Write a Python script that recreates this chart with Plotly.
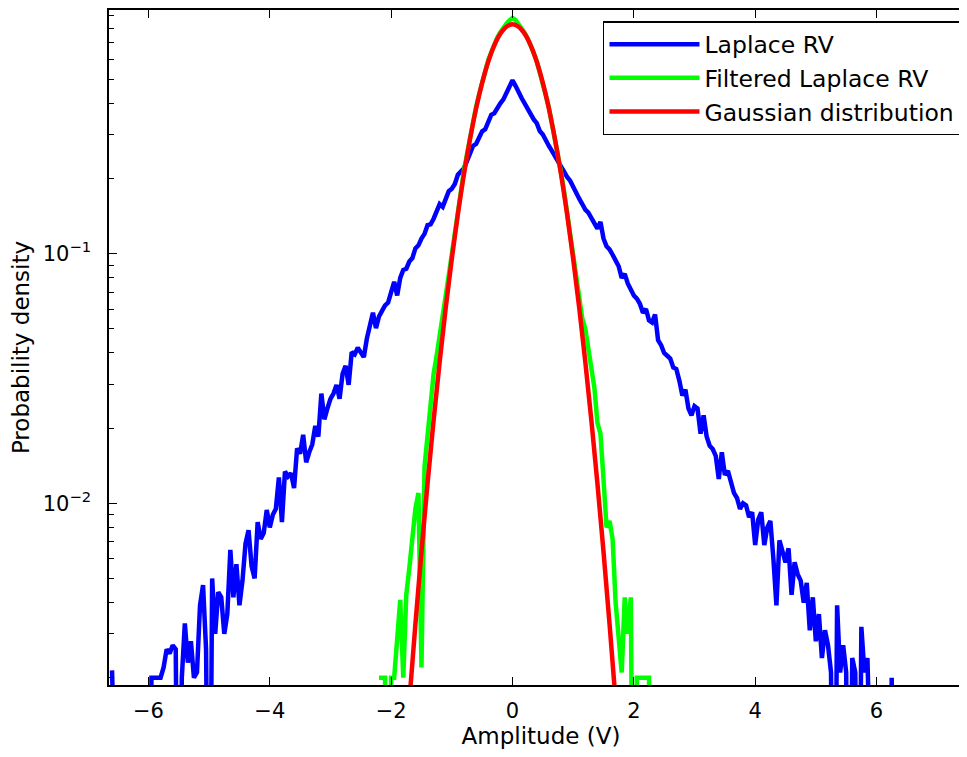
import plotly.graph_objects as go

# Laplace RV histogram density, bins 0.05 wide starting at -6.6
blue_start = -6.6
blue_y = [
    0.00214, 0, 0, 0, 0, 0, 0, 0, 0, 0, 0, 0,
    0, 0.0020, 0.0020, 0.0020, 0.0020, 0.0022, 0.0026, 0.0025, 0.0027, 0.0026,
    0, 0.0020, 0.0033, 0.0023, 0.0028, 0.0020, 0.0021, 0.0039, 0.0047, 0.0026,
    0, 0.0050, 0.0030, 0.0044, 0.0042, 0.0030, 0.0036, 0.0065, 0.0042, 0.0057,
    0.0039, 0.0049, 0.0069, 0.0078, 0.0056, 0.0050, 0.0084, 0.0072, 0.0076, 0.0094,
    0.0080, 0.0090, 0.0095, 0.0127, 0.0084, 0.0134, 0.0128, 0.0132, 0.0115, 0.0166,
    0.0158, 0.0188, 0.0146, 0.0160, 0.0172, 0.0204, 0.0185, 0.0275, 0.0217, 0.0240,
    0.0262, 0.0275, 0.0298, 0.0262, 0.0330, 0.0355, 0.0298, 0.0403, 0.0395, 0.0420,
    0.0400, 0.0385, 0.0457, 0.0520, 0.0580, 0.0503, 0.0560, 0.0590, 0.0620, 0.0637,
    0.0700, 0.0771, 0.0680, 0.0800, 0.0860, 0.0870, 0.0930, 0.0960, 0.1050, 0.1080,
    0.1150, 0.1200, 0.1300, 0.1310, 0.1380, 0.1470, 0.1580, 0.1540, 0.1680, 0.1780,
    0.182, 0.190, 0.207, 0.212, 0.220, 0.235, 0.250, 0.270, 0.275, 0.290,
    0.309, 0.315, 0.335, 0.360, 0.365, 0.385, 0.400, 0.415, 0.440, 0.465,
    0.495, 0.470, 0.440, 0.420, 0.400, 0.378, 0.365, 0.345, 0.333, 0.310,
    0.300, 0.283, 0.270, 0.258, 0.245, 0.233, 0.224, 0.213, 0.203, 0.196,
    0.184, 0.175, 0.166, 0.158, 0.150, 0.146, 0.138, 0.133, 0.126, 0.134,
    0.115, 0.107, 0.104, 0.099, 0.094, 0.089, 0.080, 0.083, 0.076, 0.072,
    0.068, 0.066, 0.063, 0.058, 0.060, 0.054, 0.053, 0.057, 0.045, 0.043,
    0.040, 0.039, 0.038, 0.035, 0.0345, 0.031, 0.027, 0.0285, 0.024, 0.0225,
    0.0245, 0.024, 0.019, 0.0225, 0.0185, 0.017, 0.0165, 0.0155, 0.0125, 0.0160,
    0.0130, 0.0135, 0.0120, 0.0110, 0.0105, 0.0095, 0.0100, 0.0098, 0.0088, 0.0092,
    0.0068, 0.0086, 0.0092, 0.0068, 0.0080, 0.0085, 0.0060, 0.0039, 0.0071, 0.0065,
    0.0058, 0.0066, 0.0043, 0.0058, 0.0052, 0.0049, 0.0040, 0.0048, 0.0031, 0.0042,
    0.0028, 0.0036, 0.0024, 0.0031, 0.0027, 0.0021, 0, 0.0039, 0.0021, 0.0027,
    0.0021, 0, 0.0024, 0.0021, 0, 0.0032, 0.0021, 0.0024, 0, 0,
    0, 0, 0, 0, 0, 0.0020, 0,
]

# filtered Laplace RV histogram density, bins 0.05 wide starting at -2.2
green_start = -2.2
green_y = [
    0.002, 0.002, 0.002, 0, 0.002, 0.002, 0.0030, 0.0041, 0.0020, 0.0043,
    0.0055, 0.0075, 0.0095, 0.0110, 0.0022, 0.0140, 0.0190, 0.0260, 0.0330, 0.0390,
    0.0480, 0.0560, 0.0680, 0.0820, 0.1000, 0.124, 0.150, 0.178, 0.215, 0.250,
    0.295, 0.335, 0.388, 0.435, 0.490, 0.540, 0.595, 0.640, 0.690, 0.735,
    0.770, 0.805, 0.835, 0.860, 0.880, 0.862, 0.830, 0.800, 0.768, 0.728,
    0.688, 0.636, 0.590, 0.535, 0.488, 0.430, 0.385, 0.335, 0.292, 0.248,
    0.212, 0.178, 0.148, 0.122, 0.100, 0.084, 0.068, 0.055, 0.050, 0.042,
    0.034, 0.029, 0.021, 0.019, 0.0125, 0.0080, 0.0085, 0.0072, 0.0040, 0.0030,
    0.0021, 0.0042, 0.0030, 0.0042, 0, 0.002, 0.002, 0.002, 0.002, 0.002, 0,
]

# Gaussian fit, read every 0.1 from -1.8 to 1.8
red_start = -1.8
red_y = [
    0.000755, 0.00161, 0.00328, 0.00641, 0.0120, 0.0215, 0.0369, 0.0607, 0.0955,
    0.1439, 0.208, 0.2875, 0.381, 0.483, 0.587, 0.683, 0.760, 0.811,
    0.829,
    0.811, 0.760, 0.683, 0.587, 0.483, 0.381, 0.2875, 0.208, 0.1439,
    0.0955, 0.0607, 0.0369, 0.0215, 0.0120, 0.00641, 0.00328, 0.00161, 0.000755,
]

blue_x = [round(blue_start + 0.05 * i, 2) for i in range(len(blue_y))]
green_x = [round(green_start + 0.05 * i, 2) for i in range(len(green_y))]
red_x = [round(red_start + 0.1 * i, 2) for i in range(len(red_y))]

# empty bins: push them below the axis so the line drops to the edge like matlab
def floor_zero(vals):
    return [v if v > 0 else 1e-4 for v in vals]

font = "DejaVu Sans, sans-serif"

fig = go.Figure()
fig.add_trace(go.Scatter(x=blue_x, y=floor_zero(blue_y), mode="lines", name="Laplace RV",
                         line=dict(color="#0000ff", width=4.5)))
fig.add_trace(go.Scatter(x=green_x, y=floor_zero(green_y), mode="lines", name="Filtered Laplace RV",
                         line=dict(color="#00ff00", width=4.5)))
fig.add_trace(go.Scatter(x=red_x, y=red_y, mode="lines", name="Gaussian distribution",
                         line=dict(color="#ff0000", width=4.5, shape="spline")))

minor_vals = [m * 10.0 ** e for e in (-3, -2, -1) for m in range(2, 10)]

# page body has an 8px margin; the right edge of the axes box runs off the picture
fig.update_layout(
    width=967, height=741,
    margin=dict(l=101, r=0, t=1, b=64),
    plot_bgcolor="white", paper_bgcolor="white",
    font=dict(family=font, size=21, color="black"),
    showlegend=True,
    legend=dict(x=0.9861, y=0.9837, xanchor="right", yanchor="top",
                bgcolor="white", bordercolor="black", borderwidth=1.5,
                font=dict(size=23.5), itemwidth=90, tracegroupgap=0),
)

fig.update_xaxes(
    range=[-6.65, 7.59], tick0=0, dtick=2,
    showgrid=False, zeroline=False,
    showline=True, linecolor="black", linewidth=1.5, mirror="ticks",
    ticks="inside", ticklen=8, tickwidth=1.2, tickcolor="black",
    ticklabelstandoff=6,
    title=dict(text="Amplitude (V)", font=dict(size=23), standoff=2),
)
fig.update_yaxes(
    type="log", range=[-2.728, -0.024],
    tickvals=[0.01, 0.1], ticktext=["10<sup>−2</sup>", "10<sup>−1</sup>"],
    showgrid=False, zeroline=False,
    showline=True, linecolor="black", linewidth=1.5, mirror="ticks",
    ticks="inside", ticklen=8, tickwidth=1.2, tickcolor="black",
    ticklabelstandoff=12,
    minor=dict(tickvals=minor_vals, ticks="inside", ticklen=5, tickwidth=1.2,
               tickcolor="black", showgrid=False),
    title=dict(text="Probability density", font=dict(size=23), standoff=16),
)

fig.write_html("out.html")
